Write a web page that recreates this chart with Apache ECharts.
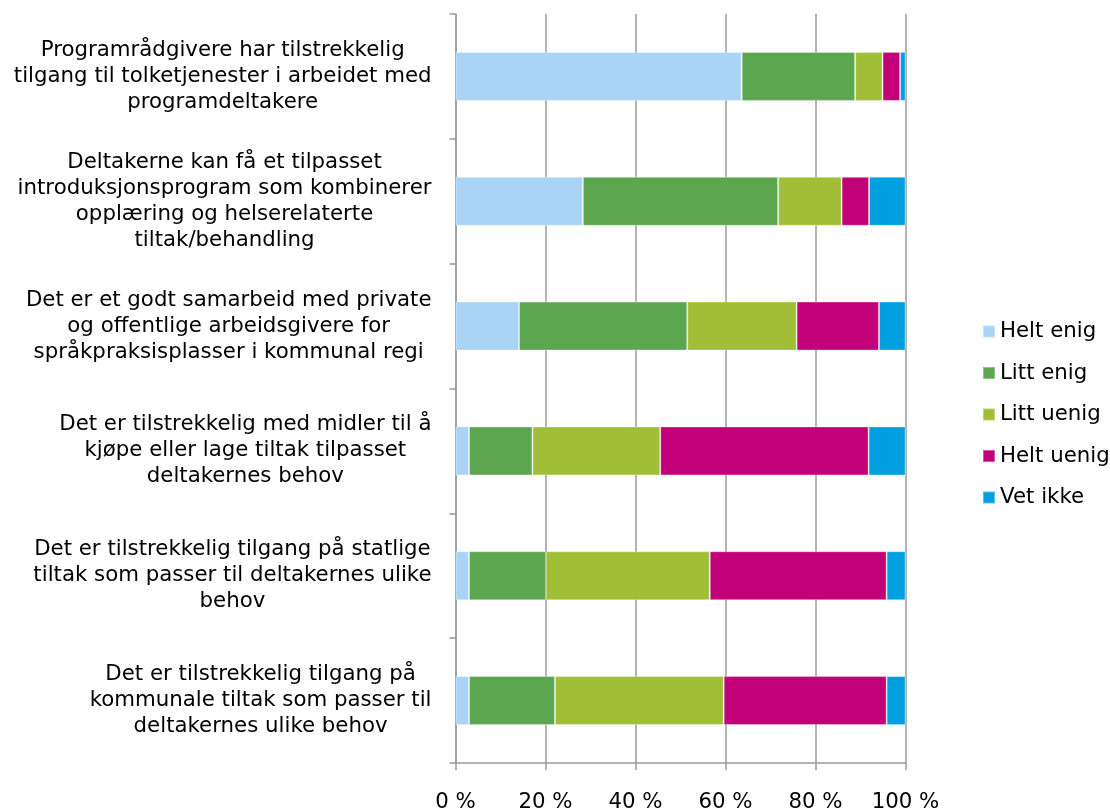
<!DOCTYPE html>
<html>
<head>
<meta charset="utf-8">
<script src="https://cdn.jsdelivr.net/npm/echarts@6/dist/echarts.min.js"></script>
<style>
  html, body { margin: 0; padding: 0; background: #fff; }
  #chart { width: 1110px; height: 810px; }
</style>
</head>
<body>
<div id="chart"></div>
<script>
// Survey statements (top to bottom), line breaks as displayed
const categories = [
  'Programrådgivere har tilstrekkelig\ntilgang til tolketjenester i arbeidet med\nprogramdeltakere',
  'Deltakerne kan få et tilpasset\nintroduksjonsprogram som kombinerer\nopplæring og helserelaterte\ntiltak/behandling',
  'Det er et godt samarbeid med private\nog offentlige arbeidsgivere for\nspråkpraksisplasser i kommunal regi',
  'Det er tilstrekkelig med midler til å\nkjøpe eller lage tiltak tilpasset\ndeltakernes behov',
  'Det er tilstrekkelig tilgang på statlige\ntiltak som passer til deltakernes ulike\nbehov',
  'Det er tilstrekkelig tilgang på\nkommunale tiltak som passer til\ndeltakernes ulike behov'
];

// Answer shares in percent, per statement
const heltEnig  = [63.6, 28.3, 14.1,  3.0,  3.0,  3.0];
const littEnig  = [25.2, 43.4, 37.4, 14.1, 17.1, 19.1];
const littUenig = [ 6.1, 14.1, 24.3, 28.4, 36.4, 37.5];
const heltUenig = [ 3.9,  6.1, 18.3, 46.3, 39.3, 36.2];
const vetIkke   = [ 1.2,  8.1,  5.9,  8.2,  4.2,  4.2];

const seriesNames = ['Helt enig', 'Litt enig', 'Litt uenig', 'Helt uenig', 'Vet ikke'];
const seriesData = [heltEnig, littEnig, littUenig, heltUenig, vetIkke];
const colors = ['#A9D4F5', '#5DA650', '#A1BE37', '#C20078', '#009FDF'];

const FONT = '"DejaVu Sans", Verdana, sans-serif';
const FS = 21.3;

const chart = echarts.init(document.getElementById('chart'));

chart.setOption({
  animation: false,
  backgroundColor: '#ffffff',
  color: colors,
  textStyle: { fontFamily: FONT, color: '#000' },
  grid: {
    left: 455.5, right: 204.5, top: 14, bottom: 47,
    containLabel: false,
    outerBoundsMode: 'none'
  },
  legend: {
    orient: 'vertical',
    left: 977,
    top: 316,
    itemWidth: 12,
    itemHeight: 12,
    itemGap: 20.5,
    icon: 'rect',
    data: seriesNames,
    textStyle: { fontFamily: FONT, fontSize: FS, color: '#000' }
  },
  xAxis: {
    type: 'value',
    min: 0,
    max: 100,
    interval: 20,
    axisLine: { show: true, lineStyle: { color: '#9a9a9a', width: 1.5 } },
    axisTick: { show: true, length: 7, lineStyle: { color: '#9a9a9a', width: 1.5 } },
    splitLine: { show: true, lineStyle: { color: '#9a9a9a', width: 1.5 } },
    axisLabel: {
      margin: 29,
      fontFamily: FONT,
      fontSize: FS,
      color: '#000',
      formatter: v => v + ' %'
    }
  },
  yAxis: {
    type: 'category',
    inverse: true,
    data: categories,
    axisLine: { show: true, lineStyle: { color: '#9a9a9a', width: 1.5 } },
    axisTick: { show: true, length: 6, alignWithLabel: false, lineStyle: { color: '#9a9a9a', width: 1.5 } },
    axisLabel: {
      margin: 24,
      align: 'right',
      formatter: v => v.split('\n').map(s => '{c|' + s + '}').join('\n'),
      rich: {
        c: { align: 'center', fontFamily: FONT, fontSize: FS, lineHeight: 26, color: '#000' }
      }
    }
  },
  series: seriesNames.map((name, i) => ({
    name,
    type: 'bar',
    stack: 'total',
    barWidth: 49,
    data: seriesData[i],
    itemStyle: { color: colors[i], borderColor: 'rgba(255,255,255,0.35)', borderWidth: 1 }
  }))
});
</script>
</body>
</html>
